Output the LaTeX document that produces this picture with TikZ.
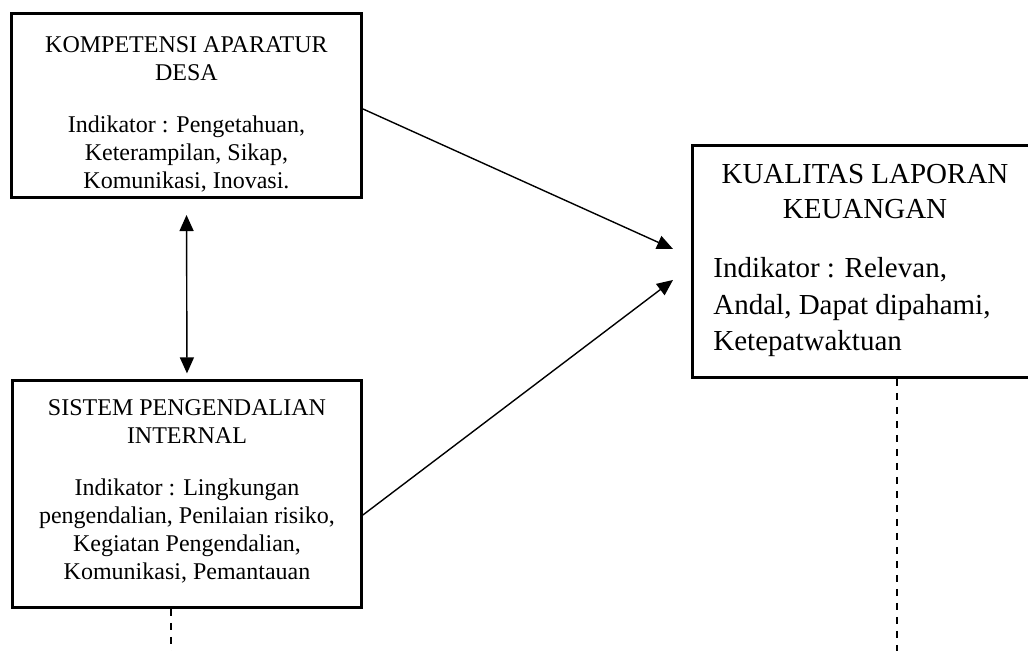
\documentclass[tikz,border=0pt]{standalone}
\usepackage{fontspec}
\setmainfont{Liberation Serif}
\usetikzlibrary{arrows.meta}

\begin{document}
\begin{tikzpicture}[>={Triangle[length=8pt,width=7pt]},
  kotak/.style={draw,line width=1.4pt,inner sep=0pt},
  isi/.style={inner sep=0pt,align=center,font=\fontsize{12}{14}\selectfont},
  panah/.style={->,line width=0.7pt},
  putus/.style={line width=1pt,dash pattern=on 3.5pt off 3.5pt}]
\useasboundingbox (0,0) rectangle (18.065,-11.44);
\node[kotak,minimum width=6.15cm,minimum height=3.24cm] (kad) at (3.277,-1.854) {};
\node[isi,anchor=north] (kadisi) at (3.277,-0.633) {KOMPETENSI APARATUR\\DESA\\[12pt]Indikator : Pengetahuan,\\Keterampilan, Sikap,\\Komunikasi, Inovasi.};
\node[kotak,minimum width=6.13cm,minimum height=3.99cm] (spi) at (3.286,-8.681) {};
\node[isi,anchor=north] (spiisi) at (3.286,-7.012) {SISTEM PENGENDALIAN\\INTERNAL\\[12pt]Indikator : Lingkungan\\pengendalian, Penilaian risiko,\\Kegiatan Pengendalian,\\Komunikasi, Pemantauan};
\node[kotak,minimum width=6.06cm,minimum height=4.08cm] (klk) at (15.201,-4.595) {};
\node[isi,anchor=north,font=\fontsize{14.5}{17.5}\selectfont] (klkjudul) at (15.201,-2.882) {KUALITAS LAPORAN\\KEUANGAN};
\node[isi,anchor=north west,align=left,font=\fontsize{14.5}{18.25}\selectfont] (klkisi) at (12.530,-4.516) {Indikator : Relevan,\\Andal, Dapat dipahami,\\Ketepatwaktuan};
\coordinate (t1) at (11.827,-4.376);
\coordinate (t2) at (11.827,-4.920);
\coordinate (b1) at (3.005,-11.44);
\coordinate (b2) at (15.763,-11.44);
\draw[panah] ([yshift=-0.06cm]kad.east) -- (t1);
\draw[panah] ([yshift=-0.37cm]spi.east) -- (t2);
\draw[<->,line width=0.7pt,shorten <=0.28cm,shorten >=0.1cm] (kad.south) -- (spi.north);
\draw[putus] (b1 |- spi.south) -- (b1);
\draw[putus] (b2 |- klk.south) -- (b2);
\end{tikzpicture}
\end{document}
